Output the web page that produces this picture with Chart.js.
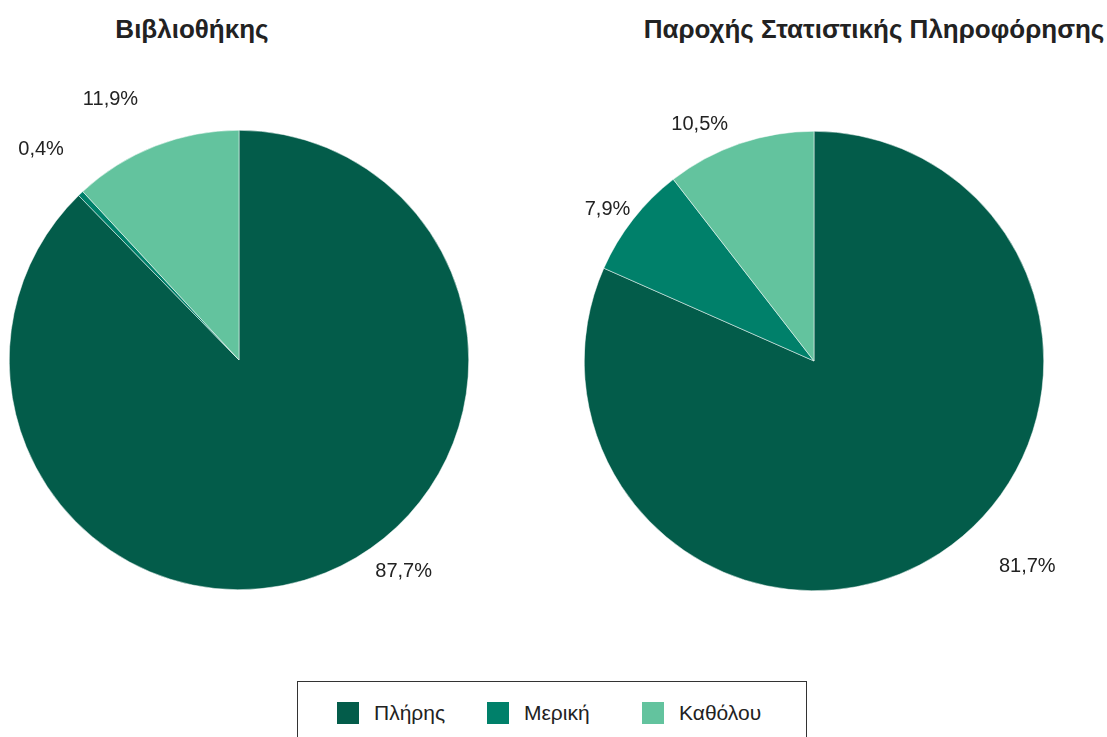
<!DOCTYPE html>
<html>
<head>
<meta charset="utf-8">
<script src="https://cdn.jsdelivr.net/npm/chart.js@4.4.1/dist/chart.umd.min.js"></script>
<style>
  body { margin: 0; background: #fff; width: 1107px; height: 737px; overflow: hidden; position: relative;
         font-family: "Liberation Sans", Arial, Helvetica, sans-serif; color: #222; }
  .title { position: absolute; top: 16px; font-size: 26px; line-height: 26px; font-weight: bold;
           white-space: nowrap; transform: translateX(-50%); color: #222; }
  .wrap { position: absolute; top: 60px; height: 600px; }
  #legend { position: absolute; left: 297px; top: 681px; width: 508px; height: 80px; border: 1px solid #333; }
  .item { position: absolute; top: 19px; display: flex; align-items: center; font-size: 21px; }
  .item span.sw { display: inline-block; width: 22px; height: 22px; margin-right: 15px; }
</style>
</head>
<body>
<div class="title" style="left:192px">Βιβλιοθήκης</div>
<div class="title" style="left:874px">Παροχής Στατιστικής Πληροφόρησης</div>
<div class="wrap" style="left:0;width:480px"><canvas id="pieLeft"></canvas></div>
<div class="wrap" style="left:560px;width:547px"><canvas id="pieRight"></canvas></div>
<div id="legend"></div>
<script>
// κατηγορίες και τιμές (%)
const categories = ['Πλήρης', 'Μερική', 'Καθόλου'];
const libraryValues = [87.7, 0.4, 11.9];
const statsValues = [81.7, 7.9, 10.5];
const colors = ['#035c4a', '#00806a', '#63c39e'];

// μετατόπιση ετικετών (px) σε σχέση με το μέσο του τόξου
const leftLabelNudge = [[63, -38], [-12, -15], [-30, -9]];
const rightLabelNudge = [[66, -21], [6, 15], [-27, 19]];

const fmt = v => v.toFixed(1).replace('.', ',') + '%';

// ετικέτες έξω από την πίτα
const outsideLabels = {
    id: 'outsideLabels',
    afterDatasetsDraw(chart, args, opts) {
        const ctx = chart.ctx;
        const meta = chart.getDatasetMeta(0);
        const data = chart.data.datasets[0].data;
        ctx.save();
        ctx.font = '20px "Liberation Sans", Arial, sans-serif';
        ctx.fillStyle = '#222';
        ctx.textAlign = 'center';
        ctx.textBaseline = 'middle';
        meta.data.forEach((arc, i) => {
            const p = arc.getProps(['x', 'y', 'startAngle', 'endAngle', 'outerRadius'], true);
            const mid = (p.startAngle + p.endAngle) / 2;
            const d = p.outerRadius + 40;
            const n = opts.nudge[i] || [0, 0];
            ctx.fillText(fmt(data[i]), p.x + Math.cos(mid) * d + n[0], p.y + Math.sin(mid) * d + n[1]);
        });
        ctx.restore();
    }
};

function makePie(id, values, pad, nudge) {
    new Chart(document.getElementById(id), {
        type: 'pie',
        data: {
            labels: categories,
            datasets: [{
                data: values,
                backgroundColor: colors,
                borderColor: '#ffffff',
                borderWidth: 0.5,
            }]
        },
        options: {
            responsive: true,
            maintainAspectRatio: false,
            animation: false,
            layout: {padding: pad},
            plugins: {
                legend: {display: false},
                tooltip: {enabled: false},
                outsideLabels: {nudge: nudge},
            }
        },
        plugins: [outsideLabels]
    });
}

makePie('pieLeft', libraryValues, {left: 9, right: 11, top: 70, bottom: 70}, leftLabelNudge);
makePie('pieRight', statsValues, {left: 24, right: 63, top: 71, bottom: 69}, rightLabelNudge);

// υπόμνημα
const legendLeft = [39, 189, 344];
const legend = document.getElementById('legend');
categories.forEach((c, i) => {
    const el = document.createElement('div');
    el.className = 'item';
    el.style.left = legendLeft[i] + 'px';
    el.innerHTML = '<span class="sw" style="background:' + colors[i] + '"></span>' + c;
    legend.appendChild(el);
});
</script>
</body>
</html>
